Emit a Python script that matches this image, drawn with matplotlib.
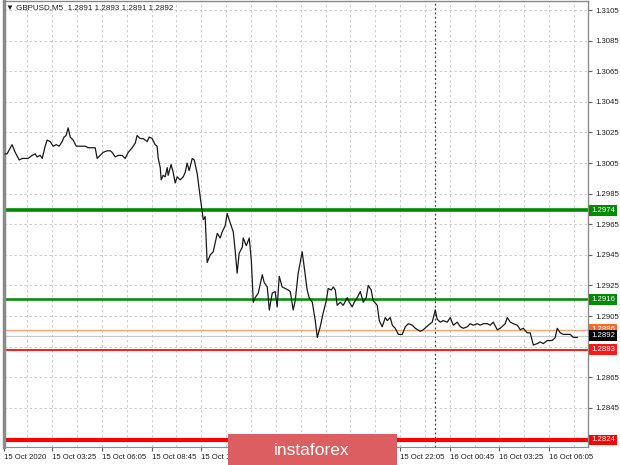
import matplotlib
matplotlib.use('Agg')
import matplotlib.pyplot as plt
import matplotlib.transforms as mtransforms
from matplotlib.patches import Rectangle

# ── данные ───────────────────────────────────────────────────────
title = "GBPUSD,M5  1.2891 1.2893 1.2891 1.2892"

bars = [1.7, 3.0, 6.2, 8.2, 10.8, 12.7, 14.6, 16.6, 19.1, 21.1, 22.3, 24.3, 25.6,
        27.5, 28.8, 30.7, 32.7, 34.6, 36.5, 38.4, 39.7, 41.0, 42.3, 43.6, 45.5,
        47.5, 48.8, 51.3, 53.3, 55.2, 57.8, 59.7, 61.0, 62.9, 64.9, 67.4, 69.4,
        70.6, 72.6, 74.5, 77.1, 79.0, 81.0, 83.5, 85.5, 86.7, 88.7, 90.6, 93.2,
        94.5, 96.4, 98.3, 99.6, 100.3, 101.6, 102.2, 103.5, 104.8, 106.1, 106.7,
        108.6, 109.9, 111.2, 112.5, 114.4, 116.4, 117.7, 118.9, 120.2, 122.2,
        123.5, 125.4, 127.3, 129.3, 130.5, 131.8, 133.8, 135.7, 138.3, 140.2,
        141.5, 143.4, 144.7, 146.6, 148.6, 149.8, 151.1, 152.4, 154.4, 155.0,
        157.0, 158.9, 160.2, 161.5, 162.7, 164.7, 167.3, 168.5, 170.5, 171.8,
        173.7, 175.6, 176.9, 178.2, 180.1, 182.1, 184.0, 185.3, 187.2, 188.5,
        190.4, 193.0, 194.3, 196.2, 197.5, 199.5, 201.4, 202.7, 204.6, 206.5,
        208.5, 209.7, 211.7, 213.0, 214.3, 215.5, 217.5, 219.4, 222.0, 223.3,
        225.2, 226.5, 228.4, 230.4, 232.3, 234.2, 235.5, 237.4, 238.7, 241.3,
        242.6, 244.5, 246.5, 247.8, 249.7, 251.0, 252.9, 254.9, 257.4, 259.4,
        261.3, 263.9, 265.8, 269.0, 270.9, 274.2, 276.7, 278.7, 279.9, 281.9,
        283.8, 286.4, 288.3, 290.3, 292.8, 294.8, 296.7, 299.3, 301.2, 303.1,
        305.7, 307.6, 309.6, 312.2, 314.1, 316.0, 318.6, 320.5, 323.7, 325.0,
        327.0, 328.9, 331.5, 333.4, 335.3, 337.9, 339.8, 341.8, 344.3, 346.3,
        348.2, 350.8, 354.0, 355.9, 357.2, 359.1, 361.1, 363.7, 365.6, 367.5,
        370.1]

prices = [1.3011, 1.3011, 1.3017, 1.3012, 1.3007, 1.3008, 1.3008, 1.3008, 1.3010,
          1.3011, 1.3009, 1.3010, 1.3008, 1.3016, 1.3020, 1.3019, 1.3016, 1.3017,
          1.3016, 1.3019, 1.3022, 1.3023, 1.3028, 1.3022, 1.3020, 1.3016, 1.3016,
          1.3016, 1.3016, 1.3015, 1.3015, 1.3015, 1.3008, 1.3010, 1.3012, 1.3013,
          1.3013, 1.3012, 1.3009, 1.3010, 1.3010, 1.3008, 1.3012, 1.3015, 1.3018,
          1.3023, 1.3021, 1.3021, 1.3019, 1.3022, 1.3021, 1.3017, 1.3016, 1.3008,
          1.3002, 1.2994, 1.2997, 1.2996, 1.3002, 1.2997, 1.3004, 1.2999, 1.2992,
          1.2996, 1.2994, 1.2996, 1.2999, 1.3005, 1.3000, 1.3008, 1.3007, 1.2998,
          1.2983, 1.2968, 1.2970, 1.2940, 1.2945, 1.2947, 1.2959, 1.2956, 1.2960,
          1.2964, 1.2972, 1.2966, 1.2960, 1.2948, 1.2933, 1.2946, 1.2950, 1.2956,
          1.2951, 1.2956, 1.2942, 1.2914, 1.2917, 1.2920, 1.2932, 1.2927, 1.2924,
          1.2909, 1.2920, 1.2921, 1.2911, 1.2931, 1.2924, 1.2923, 1.2922, 1.2921,
          1.2909, 1.2915, 1.2933, 1.2947, 1.2937, 1.2922, 1.2917, 1.2914, 1.2902,
          1.2891, 1.2898, 1.2907, 1.2915, 1.2923, 1.2922, 1.2924, 1.2922, 1.2912,
          1.2914, 1.2912, 1.2917, 1.2914, 1.2911, 1.2914, 1.2917, 1.2921, 1.2914,
          1.2917, 1.2925, 1.2922, 1.2915, 1.2912, 1.2902, 1.2898, 1.2904, 1.2902,
          1.2904, 1.2899, 1.2897, 1.2893, 1.2893, 1.2898, 1.2900, 1.2899, 1.2897,
          1.2895, 1.2896, 1.2899, 1.2901, 1.2909, 1.2903, 1.2901, 1.2902, 1.2901,
          1.2904, 1.2899, 1.2901, 1.2898, 1.2897, 1.2898, 1.2900, 1.2899, 1.2900,
          1.2899, 1.2900, 1.2900, 1.2899, 1.2901, 1.2896, 1.2897, 1.2900, 1.2904,
          1.2901, 1.2900, 1.2899, 1.2896, 1.2897, 1.2894, 1.2894, 1.2886, 1.2887,
          1.2888, 1.2887, 1.2889, 1.2889, 1.2891, 1.2897, 1.2894, 1.2893, 1.2893,
          1.2893, 1.2891, 1.2891]

# уровни: (цена, цвет линии, толщина, подпись)
levels = [
    (1.2974, '#008a00', 2.6, '1.2974'),
    (1.2916, '#008a00', 1.8, '1.2916'),
    (1.2896, '#ffa07a', 1.0, '1.2896'),
    (1.2883, '#ff1a1a', 1.4, '1.2883'),
    (1.2824, '#ff0000', 3.0, '1.2824'),
]
bid = 1.2892
day_sep = 278.7

ytick_vals = [1.2825, 1.2845, 1.2865, 1.2885, 1.2905, 1.2925, 1.2945, 1.2965,
              1.2975, 1.2985, 1.3005, 1.3025, 1.3045, 1.3065, 1.3085, 1.3105]
hidden_y = {1.2825, 1.2885, 1.2975}

xtick_bars = [1, 32, 64, 96, 128, 160, 192, 224, 256, 288, 320, 352]
xtick_labels = ['15 Oct 2020', '15 Oct 03:25', '15 Oct 06:05', '15 Oct 08:45',
                '15 Oct 11:25', '15 Oct 14:05', '15 Oct 16:45', '15 Oct 19:25',
                '15 Oct 22:05', '16 Oct 00:45', '16 Oct 03:25', '16 Oct 06:05']

# ── график ───────────────────────────────────────────────────────
plt.rcParams['font.family'] = ['Liberation Sans', 'DejaVu Sans']
fig = plt.figure(figsize=(6.2, 4.65), dpi=100)
ax = fig.add_axes([4 / 620, 18 / 465, 584 / 620, 446 / 465])

ax.set_xlim(1, 377)
ax.set_ylim(1.28194, 1.31109)

# сетка
for yv in ytick_vals:
    ax.axhline(yv, color='#c4c4c4', lw=0.6, ls=(0, (3, 3)), zorder=0)
for xb in range(16, 377, 16):
    ax.axvline(xb, color='#c4c4c4', lw=0.6, ls=(0, (3, 3)), zorder=0)
ax.axvline(day_sep, color='#404040', lw=0.9, ls=(0, (1.5, 2)), zorder=1)

for price, col, lw, lab in levels:
    ax.axhline(price, color=col, lw=lw, zorder=2)
ax.axhline(bid, color='#c8c8c8', lw=0.8, zorder=2)

ax.plot(bars, prices, color='#1a1a1a', lw=0.9, zorder=3)

# оси
ax.yaxis.tick_right()
ax.set_yticks(ytick_vals)
ax.set_yticklabels(['' if v in hidden_y else f'{v:.4f}' for v in ytick_vals])
ax.set_xticks(xtick_bars)
ax.set_xticklabels(xtick_labels)
for t in ax.get_xticklabels():
    t.set_ha('left')
ax.tick_params(axis='both', labelsize=5.6, length=3, color='#606060',
               labelcolor='#202020', pad=2)
ax.tick_params(axis='y', pad=2)
for s in ['left', 'right', 'top', 'bottom']:
    ax.spines[s].set_color('#8a8a8a')
ax.spines['left'].set_linewidth(2.5)
ax.spines['right'].set_linewidth(1.0)
ax.spines['top'].set_linewidth(1.0)
ax.spines['bottom'].set_linewidth(0.8)

# ценовые метки справа
trans = mtransforms.blended_transform_factory(ax.transAxes, ax.transData)
box_col = {'1.2974': '#008a00', '1.2916': '#008a00', '1.2896': '#ff6a2a',
           '1.2883': '#ff1a1a', '1.2824': '#ff0000'}
for price, col, lw, lab in levels:
    ax.text(1.005, price, lab, transform=trans, fontsize=5.6, color='white',
            va='center', ha='left', clip_on=False, zorder=5,
            bbox=dict(boxstyle='square,pad=0.25', fc=box_col[lab], ec='none'))
ax.text(1.005, bid, f'{bid:.4f}', transform=trans, fontsize=5.6, color='white',
        va='center', ha='left', clip_on=False, zorder=6,
        bbox=dict(boxstyle='square,pad=0.25', fc='black', ec='none'))

# заголовок
ax.text(0.004, 0.993, '\u25BC ' + title, transform=ax.transAxes, fontsize=5.8,
        color='#202020', va='top', ha='left')

# баннер instaforex
fig.patches.append(Rectangle((228 / 620, 0), 169 / 620, 31 / 465,
                             transform=fig.transFigure, fc='#dc5e60',
                             ec='none', zorder=10))
fig.text(312 / 620, 15 / 465, 'instaforex', color='white', fontsize=12.5,
         ha='center', va='center', zorder=11)

fig.savefig('out.png', dpi=100)
